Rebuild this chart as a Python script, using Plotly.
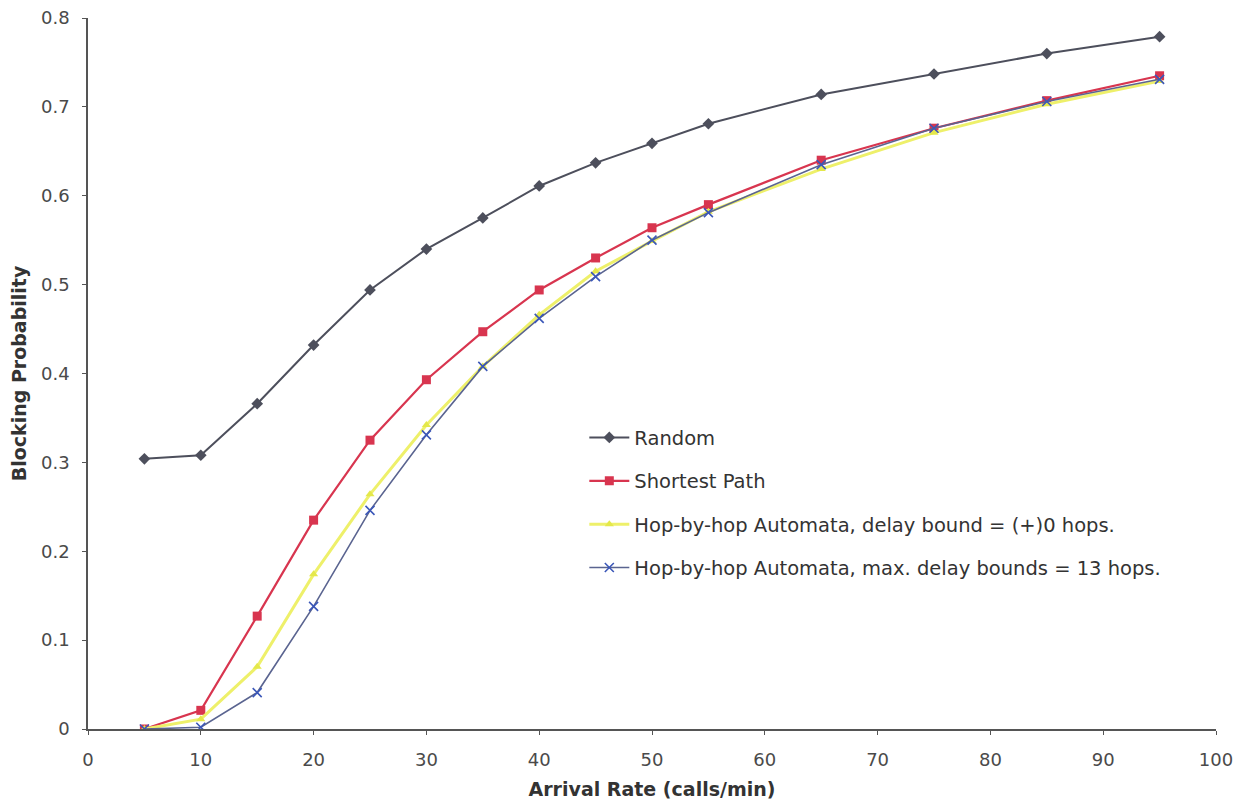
import plotly.graph_objects as go

arrival_rate = [5, 10, 15, 20, 25, 30, 35, 40, 45, 50, 55, 65, 75, 85, 95]
random_bp = [0.304, 0.308, 0.366, 0.432, 0.494, 0.540, 0.575, 0.611, 0.637, 0.659, 0.681, 0.714, 0.737, 0.760, 0.779]
shortest_bp = [0.0, 0.021, 0.127, 0.235, 0.325, 0.393, 0.447, 0.494, 0.530, 0.564, 0.590, 0.640, 0.676, 0.707, 0.735]
hop0_bp = [0.0, 0.011, 0.070, 0.174, 0.264, 0.342, 0.408, 0.466, 0.515, 0.549, 0.582, 0.630, 0.671, 0.703, 0.729]
hopmax_bp = [0.0, 0.002, 0.041, 0.138, 0.246, 0.331, 0.408, 0.462, 0.509, 0.550, 0.581, 0.635, 0.676, 0.706, 0.731]

names = ["Random", "Shortest Path",
         "Hop-by-hop Automata, delay bound = (+)0 hops.",
         "Hop-by-hop Automata, max. delay bounds = 13 hops."]

FONT = "DejaVu Sans, Liberation Sans, Arial, sans-serif"

fig = go.Figure()
fig.add_trace(go.Scatter(x=arrival_rate, y=random_bp, name=names[0], mode="lines+markers",
                         line=dict(color="#4d4f5c", width=2),
                         marker=dict(symbol="diamond", size=9, color="#4d4f5c"),
                         legendgroup="a"))
fig.add_trace(go.Scatter(x=arrival_rate, y=shortest_bp, name=names[1], mode="lines+markers",
                         line=dict(color="#d8354f", width=2.2),
                         marker=dict(symbol="square", size=9, color="#d8354f"),
                         legendgroup="b"))
fig.add_trace(go.Scatter(x=arrival_rate, y=hop0_bp, name=names[2], mode="lines+markers",
                         line=dict(color="#eef06a", width=3),
                         marker=dict(symbol="triangle-up", size=8, color="#e4e84a"),
                         legendgroup="c"))
fig.add_trace(go.Scatter(x=arrival_rate, y=hopmax_bp, name=names[3], mode="lines+markers",
                         line=dict(color="#5a6490", width=1.6),
                         marker=dict(symbol="x-thin", size=9, line=dict(color="#3b57b8", width=1.6)),
                         legendgroup="d"))

axis_font = dict(family=FONT, size=18, color="#4a4a4a")
title_font = dict(family=FONT, size=19, color="#333333")
fig.update_layout(
    width=1246, height=804,
    margin=dict(l=80, r=38, t=10, b=83, autoexpand=False),
    paper_bgcolor="white", plot_bgcolor="white",
    font=dict(family=FONT, size=18, color="#333333"),
    showlegend=True,
    legend=dict(x=0.44, y=0.437, xanchor="left", yanchor="top",
                bgcolor="rgba(0,0,0,0)", font=dict(family=FONT, size=19.5, color="#333333"),
                tracegroupgap=15, itemwidth=40),
    xaxis=dict(range=[0, 100], tickmode="linear", tick0=0, dtick=10,
               showline=True, linecolor="#555555", linewidth=1.5,
               ticks="outside", ticklen=4, tickcolor="#555555", ticklabelstandoff=10,
               ticklabeloverflow="allow",
               showgrid=False, zeroline=False, tickfont=axis_font, automargin=False,
               title=dict(text="<b>Arrival Rate (calls/min)</b>", font=title_font, standoff=13)),
    yaxis=dict(range=[0, 0.8], tickmode="linear", tick0=0, dtick=0.1,
               showline=True, linecolor="#555555", linewidth=1.5,
               ticks="outside", ticklen=4, tickcolor="#555555", ticklabelstandoff=9,
               ticklabeloverflow="allow",
               showgrid=False, zeroline=False, tickfont=axis_font, automargin=False,
               title=dict(text="<b>Blocking Probability</b>", font=title_font, standoff=10)),
)

fig.write_html("out.html")
